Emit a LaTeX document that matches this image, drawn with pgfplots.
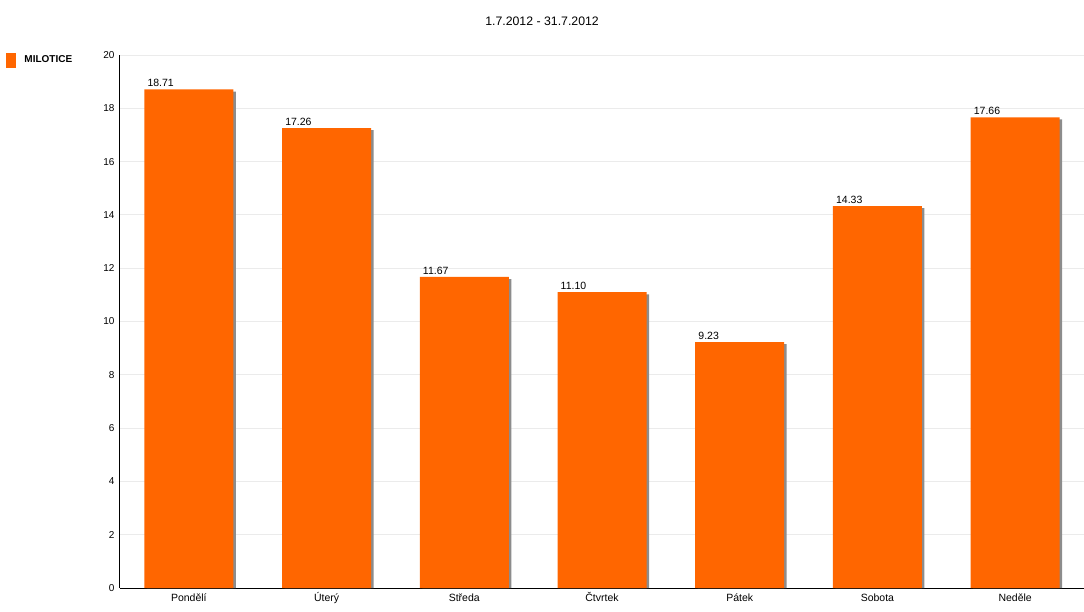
\documentclass[border=0pt]{standalone}
\usepackage{fontspec}
\setmainfont{Liberation Sans}
\usepackage{pgfplots}
\pgfplotsset{compat=1.18}
\definecolor{barorange}{HTML}{FF6600}
\definecolor{gridgray}{HTML}{EBEBEB}
\definecolor{shadowgray}{HTML}{8C8C8C}
\begin{document}
\begin{tikzpicture}
\useasboundingbox (-120pt,-23pt) rectangle (964pt,588pt);
\begin{axis}[
  at={(0,0)}, anchor=south west,
  scale only axis, width=964pt, height=533pt,
  xmin=-0.5, xmax=6.5, ymin=0, ymax=20,
  ytick={0,2,...,20},
  xtick={0,...,6},
  xticklabels={Pondělí,Úterý,Středa,Čtvrtek,Pátek,Sobota,Neděle},
  axis x line*=bottom, axis y line*=left,
  axis line style={black, line width=1pt},
  major tick length=0pt,
  ymajorgrids, grid style={gridgray, line width=0.8pt},
  tick label style={font=\fontsize{10}{12}\selectfont},
  /pgf/number format/assume math mode=true,
  yticklabel style={xshift=-2pt},
  xticklabel style={anchor=north, yshift=-2pt, text height=7.5pt, text depth=2pt, font=\fontsize{10.5}{12}\selectfont},
  ybar, bar width=89pt,
  title={1.7.2012 - 31.7.2012},
  title style={at={(0.4378,1.0526)}, anchor=center, inner sep=0pt, font=\fontsize{12.3}{14}\selectfont},
  legend style={draw=none, fill=none, at={(axis description cs:-0.118,0.9906)}, anchor=west,
    inner sep=0pt, column sep=6pt, font=\bfseries\fontsize{10}{12}\selectfont},
  legend image code/.code={\fill[barorange] (0pt,-7.5pt) rectangle (10pt,7.5pt);},
]
\addplot[forget plot, bar shift=2.5pt, fill=shadowgray, draw=none] coordinates {
  (0,18.63) (1,17.18) (2,11.59) (3,11.02) (4,9.15) (5,14.25) (6,17.58)};
\addplot[bar shift=0pt, fill=barorange, draw=none,
  nodes near coords,
  nodes near coords style={anchor=south west, xshift=-41.5pt, yshift=2.5pt, inner sep=0pt,
    font=\fontsize{10.5}{12}\selectfont, text=black,
    /pgf/number format/.cd, fixed, fixed zerofill, precision=2, assume math mode=true},
] coordinates {
  (0,18.71) (1,17.26) (2,11.67) (3,11.10) (4,9.23) (5,14.33) (6,17.66)};
\addlegendentry{MILOTICE}
\end{axis}
\end{tikzpicture}
\end{document}
